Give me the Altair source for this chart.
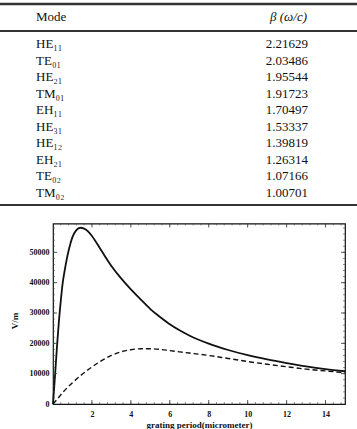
import altair as alt
import pandas as pd

# ---------------- data ----------------
modes = ["HE₁₁", "TE₀₁", "HE₂₁", "TM₀₁", "EH₁₁", "HE₃₁", "HE₁₂", "EH₂₁", "TE₀₂", "TM₀₂"]
betas = ["2.21629", "2.03486", "1.95544", "1.91723", "1.70497",
         "1.53337", "1.39819", "1.26314", "1.07166", "1.00701"]

period_solid = [0, 0.1, 0.2, 0.3, 0.4, 0.5, 0.6, 0.7, 0.8, 0.9, 1.0, 1.2, 1.4, 1.6, 1.8,
                2.0, 2.5, 3.0, 3.5, 4.0, 4.5, 5.0, 5.5, 6.0, 6.5, 7.0, 8.0, 9.0, 10.0,
                11.0, 12.0, 13.0, 14.0, 15.0]
field_solid = [0, 9000, 18500, 27000, 34000, 40000, 44000, 47500, 50500, 53000, 55000,
               57300, 58100, 57800, 56900, 55400, 50400, 45500, 41400, 37800, 34500,
               31300, 28700, 26300, 24300, 22600, 19900, 17800, 16100, 14700, 13500,
               12400, 11500, 10800]

period_dashed = [0, 0.25, 0.5, 0.75, 1.0, 1.5, 2.0, 2.5, 3.0, 3.5, 4.0, 4.5, 5.0, 5.5,
                 6.0, 6.5, 7.0, 8.0, 9.0, 10.0, 11.0, 12.0, 13.0, 14.0, 15.0]
field_dashed = [0, 1800, 3800, 5500, 7000, 9800, 12200, 14300, 16000, 17200, 17900,
                18200, 18200, 18000, 17600, 17200, 16800, 16000, 15000, 14000, 13100,
                12300, 11500, 10900, 10300]

x_ticks = [2, 4, 6, 8, 10, 12, 14]
y_ticks = [0, 10000, 20000, 30000, 40000, 50000]
x_minor = [round(0.4 * i, 1) for i in range(1, 38)]
y_minor = [2000 * i for i in range(1, 30)]

SERIF = "Liberation Serif"
W, H = 292, 180.5

xs = alt.Scale(domain=[0, 15], nice=False, zero=False)
ys = alt.Scale(domain=[0, 59500], nice=False)

# ---------------- plot ----------------
df_s = pd.DataFrame({"x": period_solid, "y": field_solid})
df_d = pd.DataFrame({"x": period_dashed, "y": field_dashed})

solid = alt.Chart(df_s).mark_line(color="#111", strokeWidth=1.8, interpolate="monotone").encode(
    x=alt.X("x:Q", scale=xs, axis=alt.Axis(
        values=x_ticks, title="grating period(micrometer)", grid=False, ticks=False,
        domain=False, labelFont=SERIF, labelFontWeight="bold", labelFontSize=8,
        labelColor="#111", labelPadding=6, labelOverlap=False, titleFont=SERIF,
        titleFontWeight="bold", titleFontSize=9, titleColor="#111", titlePadding=2)),
    y=alt.Y("y:Q", scale=ys, axis=alt.Axis(
        values=y_ticks, format="d", title="V/m", grid=False, ticks=False, domain=False,
        labelFont=SERIF, labelFontWeight="bold", labelFontSize=8, labelColor="#111",
        labelPadding=4, labelOverlap=False, labelFlush=False, titleFont=SERIF,
        titleFontWeight="bold", titleFontSize=9, titleColor="#111", titleX=-39,
        titleY=97, titleAngle=-90, titleBaseline="middle", titleAlign="center")),
)
dashed = alt.Chart(df_d).mark_line(color="#111", strokeWidth=1.4, strokeDash=[5, 3],
                                   interpolate="monotone").encode(
    x=alt.X("x:Q", scale=xs, axis=None), y=alt.Y("y:Q", scale=ys, axis=None))

def xtick(vals, y1, y2, w):
    return alt.Chart(pd.DataFrame({"t": vals})).mark_rule(color="#444", strokeWidth=w).encode(
        x=alt.X("t:Q", scale=xs, axis=None), y=alt.value(y1), y2=alt.value(y2))

def ytick(vals, x1, x2, w):
    return alt.Chart(pd.DataFrame({"t": vals})).mark_rule(color="#444", strokeWidth=w).encode(
        y=alt.Y("t:Q", scale=ys, axis=None), x=alt.value(x1), x2=alt.value(x2))

ticks = [
    xtick(x_ticks, H, H - 4, 0.9), xtick(x_minor, H, H - 2, 0.6),
    xtick(x_ticks, 0, 4, 0.9), xtick(x_minor, 0, 2, 0.6),
    ytick(y_ticks[1:], 0, 4, 0.9), ytick(y_minor, 0, 2, 0.6),
    ytick(y_ticks[1:], W, W - 4, 0.9), ytick(y_minor, W, W - 2, 0.6),
]

plot = alt.layer(solid, dashed, *ticks).resolve_axis(x="independent", y="independent")

# ---------------- table ----------------
tdf = pd.DataFrame({"mode": modes, "beta": betas})
rows = alt.Scale(type="point", domain=modes, range=[-179.5, -30.5], padding=0)

mode_text = alt.Chart(tdf).mark_text(align="left", baseline="middle", font=SERIF,
                                     fontSize=13, color="#111").encode(
    x=alt.value(-17), y=alt.Y("mode:N", scale=rows, axis=None), text="mode:N")
beta_text = alt.Chart(tdf).mark_text(align="right", baseline="middle", font=SERIF,
                                     fontSize=13, color="#111").encode(
    x=alt.value(255), y=alt.Y("mode:N", scale=rows, axis=None), text="beta:N")

head_mode = alt.Chart(pd.DataFrame({"h": ["Mode"]})).mark_text(
    align="left", baseline="middle", font=SERIF, fontSize=13, color="#111").encode(
    x=alt.value(-17), y=alt.value(-206.5), text="h:N")
head_beta = alt.Chart(pd.DataFrame({"h": ["β (ω/c)"]})).mark_text(
    align="right", baseline="middle", font=SERIF, fontSize=13, fontStyle="italic",
    color="#111").encode(x=alt.value(254), y=alt.value(-206.5), text="h:N")

def hrule(y, w):
    return alt.Chart(pd.DataFrame({"r": [0]})).mark_rule(color="#333", strokeWidth=w).encode(
        x=alt.value(-53), x2=alt.value(304), y=alt.value(y))

table = alt.layer(hrule(-219.5, 2.6), hrule(-192.5, 2.2), hrule(-18.5, 2.2),
                  head_mode, head_beta, mode_text, beta_text)

chart = alt.layer(table, plot).resolve_scale(x="independent", y="independent").properties(
    width=W, height=H,
    autosize=alt.AutoSizeParams(type="none"),
    padding={"left": 53, "top": 223.5, "right": 12, "bottom": 25},
    background="white",
).configure_view(stroke="#111", strokeWidth=1.2)

chart.save("out.html", embed_options={"renderer": "svg", "actions": False})
